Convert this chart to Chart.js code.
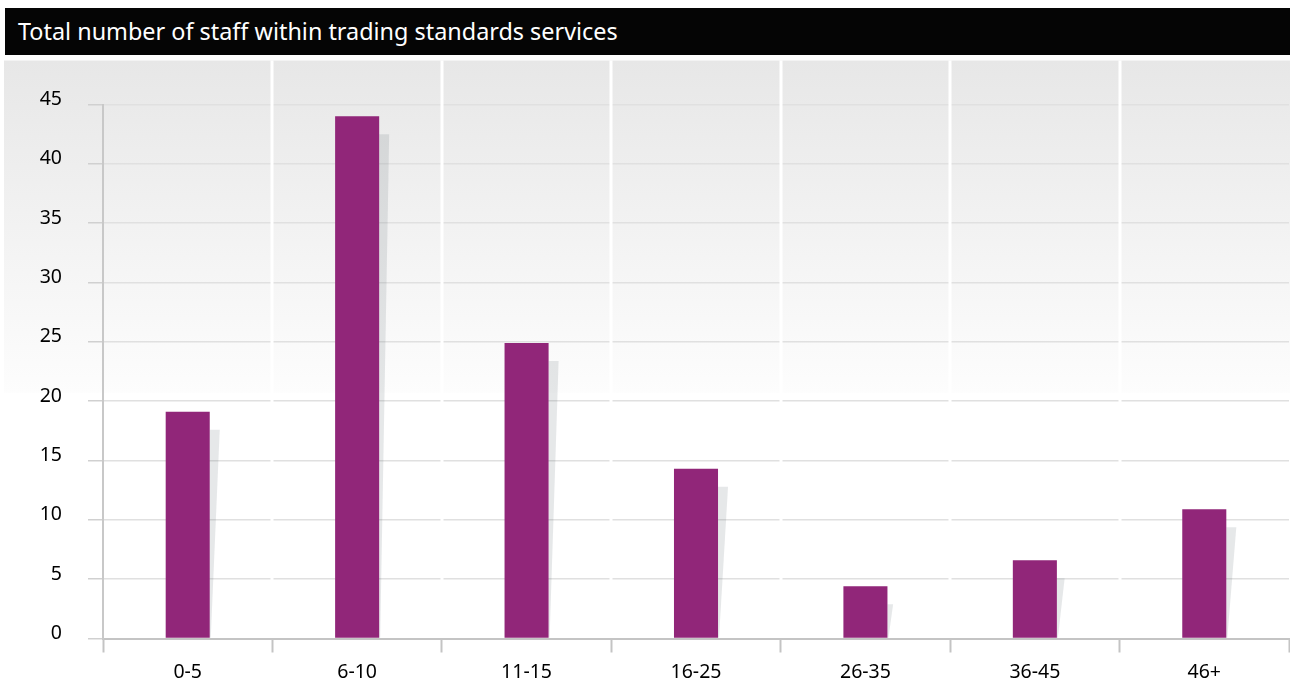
<!DOCTYPE html>
<html>
<head>
<meta charset="utf-8">
<script src="https://cdn.jsdelivr.net/npm/chart.js@4/dist/chart.umd.min.js"></script>
<style>
  html, body { margin: 0; padding: 0; background: #fff; }
  #wrap { position: relative; width: 1290px; height: 680px; }
  #chart { position: absolute; left: 0; top: 0; }
  #title {
    position: absolute; left: 5px; top: 8px; width: 1285px; height: 47px;
    background: #050505; color: #fff;
    font-family: "Noto Sans", sans-serif; font-size: 23.4px;
    line-height: 46px; padding-left: 13px; box-sizing: border-box;
  }
</style>
</head>
<body>
<div id="wrap">
  <canvas id="chart" width="1290" height="680"></canvas>
  <div id="title">Total number of staff within trading standards services</div>
</div>
<script>
// Staff-size bands and number of services in each band
const categories = ["0-5", "6-10", "11-15", "16-25", "26-35", "36-45", "46+"];
const staffCounts = [19.1, 44, 24.9, 14.3, 4.4, 6.6, 10.9];
const yMin = 0, yMax = 45, yStep = 5;

const FONT = { family: "'Noto Sans', sans-serif", size: 19.5 };

// Grey panel behind the plot, white column separators and the soft
// drop-shadow on the right-hand side of each bar.
const backdrop = {
  id: 'backdrop',
  beforeDraw(chart) {
    const { ctx, chartArea: a } = chart;
    const top = a.top - 44;
    const bottom = a.top + (a.bottom - a.top) * 0.54;
    const g = ctx.createLinearGradient(0, top, 0, bottom);
    g.addColorStop(0, '#e7e7e7');
    g.addColorStop(1, '#fdfdfd');
    ctx.save();
    ctx.fillStyle = g;
    ctx.fillRect(4, top, chart.width - 4, bottom - top);
    ctx.restore();
  },
  beforeDatasetsDraw(chart) {
    const { ctx, chartArea: a, scales: { x } } = chart;
    const top = a.top - 44;
    ctx.save();
    // column separators
    ctx.strokeStyle = '#ffffff';
    ctx.lineWidth = 3;
    for (let i = 1; i < x.ticks.length; i++) {
      const px = Math.round((x.getPixelForTick(i - 1) + x.getPixelForTick(i)) / 2);
      ctx.beginPath();
      ctx.moveTo(px, top);
      ctx.lineTo(px, a.bottom - 1);
      ctx.stroke();
    }
    // bar shadows
    const meta = chart.getDatasetMeta(0);
    ctx.fillStyle = 'rgba(90,100,110,0.15)';
    meta.data.forEach(bar => {
      const p = bar.getProps(['x', 'y', 'width', 'base'], true);
      const right = p.x + p.width / 2;
      const sTop = p.y + 18;
      const h = p.base - sTop;
      if (h <= 0) return;
      const w = Math.min(10, 3 + h * 0.08);
      ctx.beginPath();
      ctx.moveTo(right, sTop);
      ctx.lineTo(right + w, sTop);
      ctx.lineTo(right + 1, p.base);
      ctx.lineTo(right, p.base);
      ctx.closePath();
      ctx.fill();
    });
    ctx.restore();
  }
};

new Chart(document.getElementById('chart'), {
  type: 'bar',
  data: {
    labels: categories,
    datasets: [{
      data: staffCounts,
      backgroundColor: '#912679',
      borderWidth: 0,
      barPercentage: 0.26,
      categoryPercentage: 1.0
    }]
  },
  options: {
    responsive: false,
    animation: false,
    events: [],
    layout: { padding: { top: 104.5, right: 1, left: 0, bottom: 0 } },
    plugins: { legend: { display: false }, tooltip: { enabled: false }, title: { display: false } },
    scales: {
      x: {
        grid: {
          offset: true,
          drawOnChartArea: false,
          tickLength: 14,
          tickColor: '#c4c4c4',
          tickWidth: 2
        },
        border: { color: '#c4c4c4', width: 2 },
        ticks: { color: '#000', font: FONT, padding: 8 },
        afterFit(scale) { scale.height = 41.5; }
      },
      y: {
        min: yMin,
        max: yMax,
        grid: {
          color: '#e0e0e0',
          lineWidth: 1.5,
          tickLength: 15,
          tickColor: '#d0d0d0',
          tickWidth: 1.5
        },
        border: { color: '#c8c8c8', width: 2 },
        ticks: {
          stepSize: yStep,
          color: '#000',
          font: FONT,
          padding: 26,
          labelOffset: -5
        },
        afterFit(scale) { scale.width = 103; }
      }
    }
  },
  plugins: [backdrop]
});
</script>
</body>
</html>
